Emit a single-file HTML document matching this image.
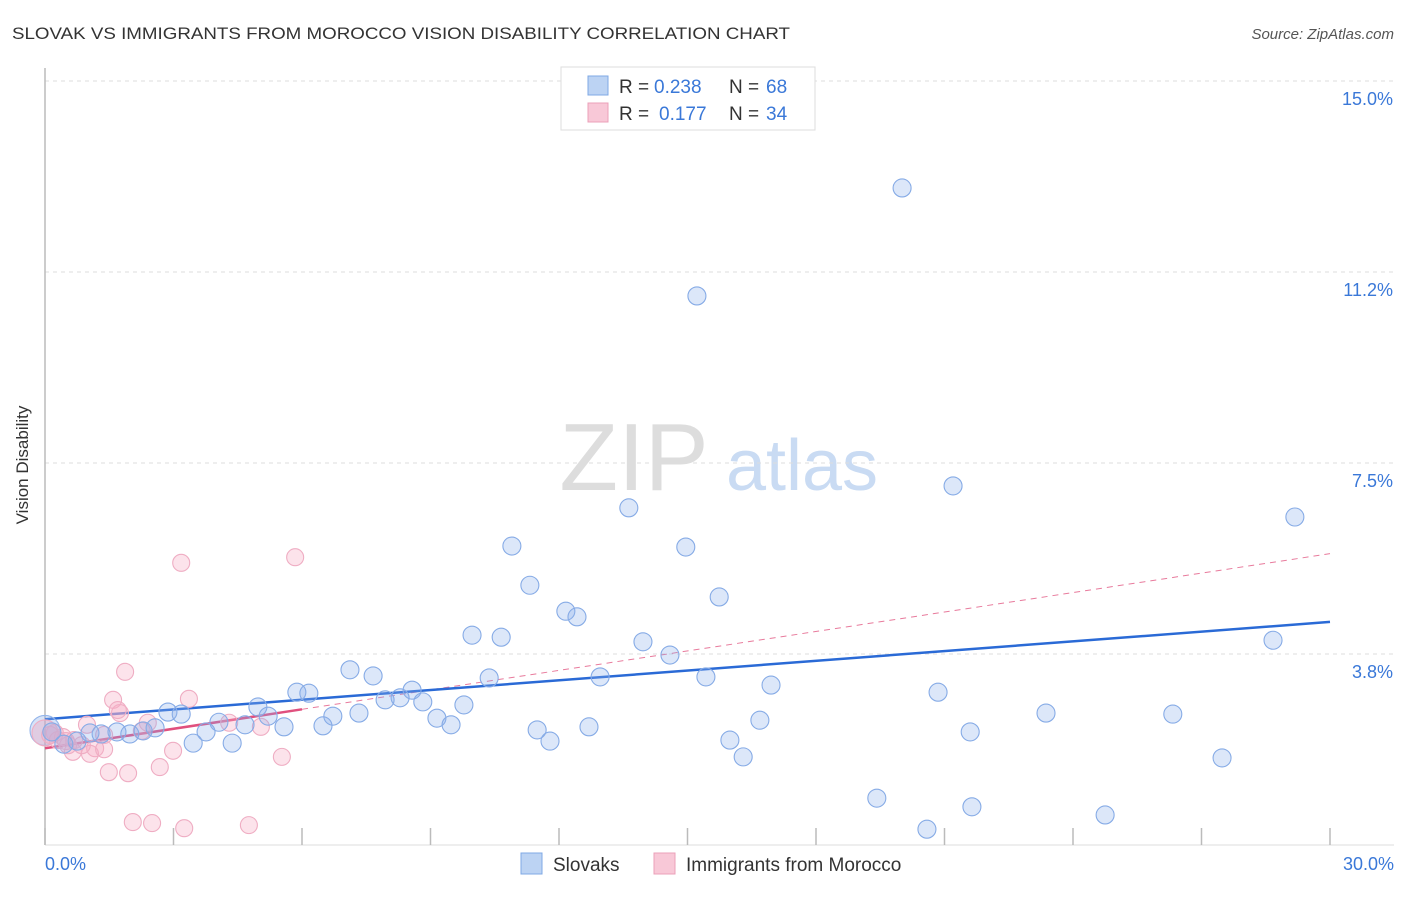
<!DOCTYPE html>
<html><head><meta charset="utf-8"><style>
body{margin:0;background:#fff;font-family:"Liberation Sans",sans-serif;}
svg text{font-family:"Liberation Sans",sans-serif;}
</style></head><body>
<svg id="chart" width="1406" height="892" viewBox="0 0 1406 892" xmlns="http://www.w3.org/2000/svg">
<text x="12" y="39" font-size="17" fill="#333" textLength="778" lengthAdjust="spacingAndGlyphs">SLOVAK VS IMMIGRANTS FROM MOROCCO VISION DISABILITY CORRELATION CHART</text>
<text x="1394" y="39" font-size="15" fill="#555" font-style="italic" text-anchor="end">Source: ZipAtlas.com</text>
<g>
<text x="634" y="490" font-size="96" fill="#ddd" font-family="Liberation Serif" text-anchor="middle">ZIP</text>
<text x="802" y="490" font-size="72" fill="#c9dbf3" text-anchor="middle">atlas</text>
</g>
<g id="grid"></g>
<g id="axes"></g>
<g id="lines"></g>
<g id="points"></g>
<text x="18" y="455" font-size="17" fill="#333" transform="rotate(-90 28 455)" text-anchor="middle">Vision Disability</text>
<g>
<rect x="561" y="67" width="254" height="63" fill="#fff" stroke="#ddd"/>
<rect x="588" y="76" width="20" height="19" fill="#bcd3f3" stroke="#7fa8e4"/>
<rect x="588" y="103" width="20" height="19" fill="#f8c8d7" stroke="#eba0b9"/>
<text x="619" y="93" font-size="19" fill="#333">R =</text>
<text x="654" y="93" font-size="19" fill="#3a78d8">0.238</text>
<text x="729" y="93" font-size="19" fill="#333">N =</text>
<text x="766" y="93" font-size="19" fill="#3a78d8">68</text>
<text x="619" y="120" font-size="19" fill="#333">R =</text>
<text x="659" y="120" font-size="19" fill="#3a78d8">0.177</text>
<text x="729" y="120" font-size="19" fill="#333">N =</text>
<text x="766" y="120" font-size="19" fill="#3a78d8">34</text>
</g>
<g>
<rect x="521" y="853" width="21" height="21" fill="#bcd3f3" stroke="#7fa8e4"/>
<text x="553" y="871" font-size="19" fill="#333">Slovaks</text>
<rect x="654" y="853" width="21" height="21" fill="#f8c8d7" stroke="#eba0b9"/>
<text x="686" y="871" font-size="19" fill="#333">Immigrants from Morocco</text>
</g>
</svg>
<script>
const xTicks=[0,3,6,9,12,15,18,21,24,27,30];
const yTicks=[3.75,7.5,11.25,15];
const yTickLabels=["3.8%","7.5%","11.2%","15.0%"];
const slovakX=[20.01,15.22,21.20,13.63,29.18,10.90,14.96,11.32,15.74,12.16,12.42,9.97,10.65,13.96,14.59,28.67,7.12,7.66,5.88,6.16,8.57,10.37,12.96,15.43,16.95,20.85,4.97,8.29,7.94,8.82,9.78,2.87,3.18,5.21,6.72,7.33,23.37,26.33,9.15,9.48,4.06,4.67,5.58,6.49,16.69,11.49,12.70,3.76,1.68,1.31,1.98,2.29,2.57,21.60,15.99,11.79,3.46,4.37,0.75,0.44,0.16,16.30,27.48,19.42,21.64,24.75,20.59,1.05];
const slovakY=[12.90,10.78,7.05,6.62,6.44,5.87,5.85,5.10,4.87,4.59,4.48,4.12,4.08,3.99,3.73,4.02,3.44,3.32,3.00,2.98,3.04,3.28,3.30,3.30,3.14,3.00,2.71,2.89,2.85,2.81,2.75,2.61,2.57,2.53,2.53,2.59,2.59,2.57,2.49,2.36,2.41,2.36,2.32,2.34,2.45,2.26,2.32,2.22,2.22,2.18,2.18,2.24,2.30,2.22,2.06,2.04,2.00,2.00,2.04,1.98,2.22,1.73,1.71,0.92,0.75,0.59,0.31,2.20];
const moroccoX=[3.18,5.84,1.87,1.59,3.36,1.75,0.98,2.40,4.30,5.04,0.23,0.42,0.68,1.38,2.26,1.17,0.65,1.05,1.38,2.99,5.53,2.68,1.49,1.94,2.05,2.50,3.25,4.76,0.12,0.30,0.54,0.86,1.70,0.49];
const moroccoY=[5.54,5.65,3.40,2.85,2.87,2.59,2.36,2.40,2.40,2.32,2.20,2.12,2.06,2.16,2.24,1.90,1.83,1.79,1.88,1.85,1.73,1.53,1.43,1.41,0.45,0.43,0.33,0.39,2.16,2.06,1.96,1.96,2.65,2.04];
const slovakTrend=[2.47,4.38];
const moroccoTrend=[1.90,5.72];
const moroccoSolidEnd=6;
const NS="http://www.w3.org/2000/svg";
const X=v=>45+v/30*1285;
const Y=v=>845-v/3.75*191;
function mk(tag,attrs,parent){const e=document.createElementNS(NS,tag);for(const k in attrs)e.setAttribute(k,attrs[k]);parent.appendChild(e);return e;}
const grid=document.getElementById('grid'),axes=document.getElementById('axes'),lines=document.getElementById('lines'),pts=document.getElementById('points');
yTicks.forEach((t,i)=>{
 const l=mk('line',{x1:45,x2:1394,y1:Y(t),y2:Y(t),stroke:'#ddd','stroke-dasharray':'4,4'},grid);
 
 
 const tx=mk('text',{x:1393,y:Y(t)+24,'font-size':18,fill:'#3a78d8','text-anchor':'end'},axes);
 tx.textContent=yTickLabels[i];
 
 
});
const ax=mk('line',{x1:45,x2:45,y1:68,y2:845,stroke:'#bbb','stroke-width':1.5},axes);


const bx=mk('line',{x1:45,x2:1394,y1:845,y2:845,stroke:'#ddd'},axes);


xTicks.forEach(t=>{
 const l=mk('line',{x1:X(t),x2:X(t),y1:828,y2:845,stroke:'#bbb','stroke-width':1.5},axes);
 
 
});
const xl0=mk('text',{x:45,y:870,'font-size':18,fill:'#3a78d8'},axes);xl0.textContent='0.0%';


const xl1=mk('text',{x:1394,y:870,'font-size':18,fill:'#3a78d8','text-anchor':'end'},axes);xl1.textContent='30.0%';


function dot(x,y,r,fill,stroke,name){const c=mk('circle',{cx:X(x),cy:Y(y),r:r,fill:fill,stroke:stroke,'stroke-width':1.1},pts);
 
 }
dot(0,2.25,15,'rgba(140,175,235,0.35)','#93b5ea','slovak-point');
dot(0,2.2,13,'rgba(240,160,185,0.35)','#efadc3','morocco-point');
moroccoX.forEach((x,i)=>dot(x,moroccoY[i],8.5,'rgba(245,175,198,0.35)','#efadc3','morocco-point'));
slovakX.forEach((x,i)=>dot(x,slovakY[i],9,'rgba(140,175,235,0.3)','#86abe6','slovak-point'));
const pm=(moroccoTrend[1]-moroccoTrend[0])/30;
const pd=mk('line',{x1:X(moroccoSolidEnd),y1:Y(moroccoTrend[0]+pm*moroccoSolidEnd),x2:X(30),y2:Y(moroccoTrend[1]),stroke:'#e87a9c','stroke-dasharray':'6,5','stroke-width':1},lines);


const bl=mk('line',{x1:X(0),y1:Y(slovakTrend[0]),x2:X(30),y2:Y(slovakTrend[1]),stroke:'#2a6ad6','stroke-width':2.5},lines);


const ps=mk('line',{x1:X(0),y1:Y(moroccoTrend[0]),x2:X(moroccoSolidEnd),y2:Y(moroccoTrend[0]+pm*moroccoSolidEnd),stroke:'#e0507e','stroke-width':2.5},lines);


</script>
</body></html>
